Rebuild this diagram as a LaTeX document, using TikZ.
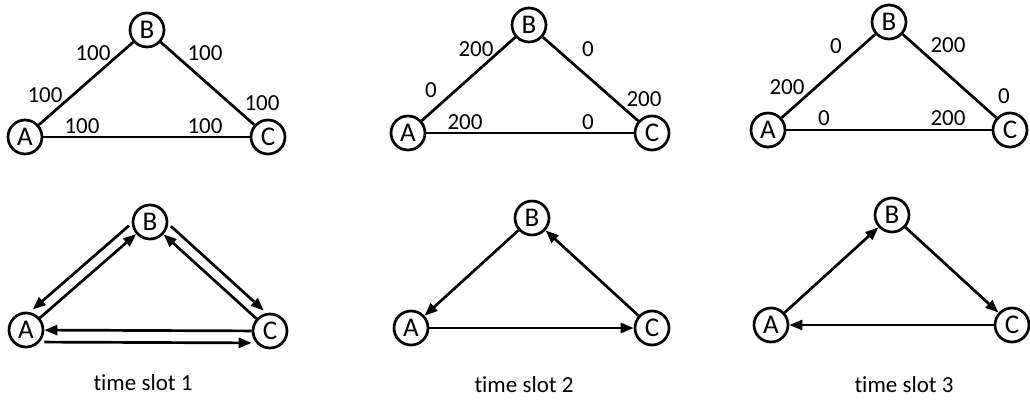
\documentclass[tikz,border=0pt]{standalone}
\usepackage{fontspec}
\setmainfont{Carlito}[Ligatures=NoCommon]
\usetikzlibrary{arrows.meta}

\begin{document}
\begin{tikzpicture}[x=1pt,y=-1pt,line width=2.7pt,
    flow/.style={-{Triangle[length=13pt,width=10pt]}}]

      \useasboundingbox (0,0) rectangle (1030,401);

      \begin{scope}[every node/.style={circle,draw,minimum size=34pt,inner sep=0pt,
          font=\fontsize{27}{27}\selectfont,text height=17.4pt,text depth=0pt}]
        % link weights
        \node (A1) at (25,137)  {A};
        \node (B1) at (147,30)  {B};
        \node (C1) at (268,137) {C};
        \node (A2) at (408,133) {A};
        \node (B2) at (529,25)  {B};
        \node (C2) at (652,133) {C};
        \node (A3) at (768,130) {A};
        \node (B3) at (889,22)  {B};
        \node (C3) at (1010,130) {C};
        % time slots
        \node (A4) at (26,330)  {A};
        \node (B4) at (150,222) {B};
        \node (C4) at (270,331) {C};
        \node (A5) at (411,328) {A};
        \node (B5) at (532,218) {B};
        \node (C5) at (652,328) {C};
        \node (A6) at (771,325) {A};
        \node (B6) at (892,215) {B};
        \node (C6) at (1012,325) {C};
      \end{scope}

      \path (A1) edge (B1) (B1) edge (C1) (A1) edge (C1);
      \path (A2) edge (B2) (B2) edge (C2) (A2) edge (C2);
      \path (A3) edge (B3) (B3) edge (C3) (A3) edge (C3);

      \begin{scope}[every node/.style={font=\fontsize{23}{23}\selectfont,
          text height=14.5pt,text depth=0pt,inner sep=0pt}]
        \node (w1ba) at (93,53)   {100};
        \node (w1ab) at (45,95)   {100};
        \node (w1bc) at (205,53)  {100};
        \node (w1cb) at (262,103) {100};
        \node (w1ac) at (82,126)  {100};
        \node (w1ca) at (205,126) {100};

        \node (w2ba) at (476,49)  {200};
        \node (w2ab) at (431,90)  {0};
        \node (w2bc) at (588,49)  {0};
        \node (w2cb) at (644,99)  {200};
        \node (w2ac) at (465,122) {200};
        \node (w2ca) at (588,122) {0};

        \node (w3ba) at (836,46)  {0};
        \node (w3ab) at (787,87)  {200};
        \node (w3bc) at (948,45)  {200};
        \node (w3cb) at (1004,96) {0};
        \node (w3ac) at (824,118) {0};
        \node (w3ca) at (948,118) {200};

        \node (t1) at (143,383) {time slot 1};
        \node (t2) at (524,385) {time slot 2};
        \node (t3) at (904,385) {time slot 3};
      \end{scope}

      % time slot 1
      \draw[flow] (A4) -- (B4);
      \draw[flow,transform canvas={xshift=-7.2pt,yshift=8.4pt}] (B4) -- (A4);
      \draw[flow] (C4) -- (B4);
      \draw[flow,transform canvas={xshift=7.4pt,yshift=8.1pt}] (B4) -- (C4);
      \draw[flow] (C4) -- (A4);
      \draw[flow,transform canvas={yshift=-12pt}] (A4) -- (C4);

      % time slot 2
      \draw[flow] (B5) -- (A5);
      \draw[flow] (C5) -- (B5);
      \draw[flow] (A5) -- (C5);

      % time slot 3
      \draw[flow] (A6) -- (B6);
      \draw[flow] (B6) -- (C6);
      \draw[flow] (C6) -- (A6);

    \end{tikzpicture}
\end{document}
